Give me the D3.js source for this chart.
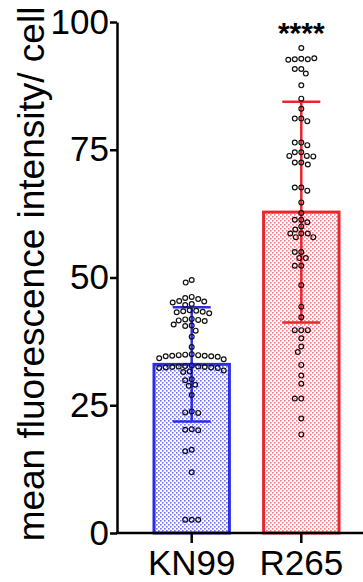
<!DOCTYPE html>
<html>
<head>
<meta charset="utf-8">
<script src="https://cdn.jsdelivr.net/npm/d3@7"></script>
<style>
  body { margin: 0; background: #fff; }
  svg { display: block; font-family: "Liberation Sans", Arial, sans-serif; }
</style>
</head>
<body>
<div id="chart"></div>
<script>
const categories = ['KN99', 'R265'];
const means = [33.0, 62.8];
const sds = [11.2, 21.6];
const yTicks = [0, 25, 50, 75, 100];
const significance = ['', '****'];

const kn99Values = [
    49.5, 49.0, 46.2, 46.0, 45.8, 45.4, 45.3, 45.1, 44.8, 44.6,
    43.6, 43.5, 43.4, 43.3, 43.2, 43.0, 41.9, 41.8, 41.7, 41.6, 41.5,
    40.8, 40.6, 40.5, 39.6, 38.4, 36.4,
    35.0, 34.9, 34.8, 34.8, 34.7, 34.7, 34.6, 34.6, 34.5, 34.2, 34.0,
    32.8, 32.7, 32.6, 32.6, 32.5, 32.5, 32.4, 32.4, 32.3, 32.3,
    31.8, 31.6, 31.5, 30.1, 29.9, 29.0, 28.8, 27.0,
    23.8, 23.6, 23.5, 20.3, 20.2, 20.1, 16.3, 16.0, 11.9,
    2.6, 2.6, 2.6
];
const r265Values = [
    94.9, 92.8, 92.7, 92.7, 92.6, 92.9, 90.8, 90.8, 89.9, 87.6, 85.0,
    83.0, 81.1, 81.1, 80.6, 76.4, 76.4, 75.9, 74.5, 74.5,
    73.8, 73.8, 73.7, 72.5, 72.5, 72.1, 67.6, 67.6, 67.0, 64.7, 62.6,
    61.3, 61.3, 60.8, 60.0, 59.4, 58.6, 58.6, 58.6, 57.9, 57.9,
    55.0, 55.0, 53.8, 53.8, 52.3, 52.3, 48.5, 44.3, 42.2,
    39.7, 39.7, 39.7, 38.1, 36.5, 35.4, 32.9, 30.8, 29.2, 26.3, 26.3,
    22.4, 19.3
];
const groupValues = [kn99Values, r265Values];
const strokeColors = ['#2d2de8', '#e8262e'];
const dotColors = ['#7070f4', '#f27a80'];

const width = 363, height = 582;
const margin = { top: 22, right: 0, bottom: 49, left: 117 };

const svg = d3.select('#chart').append('svg')
    .attr('width', width)
    .attr('height', height);

const defs = svg.append('defs');
dotColors.forEach((c, i) => {
    const p = defs.append('pattern')
        .attr('id', 'dots' + i)
        .attr('patternUnits', 'userSpaceOnUse')
        .attr('width', 4)
        .attr('height', 4);
    p.append('rect').attr('width', 4).attr('height', 4).attr('fill', '#fff');
    p.append('rect').attr('x', 0).attr('y', 0).attr('width', 1.6).attr('height', 1.6).attr('fill', c);
    p.append('rect').attr('x', 2).attr('y', 2).attr('width', 1.6).attr('height', 1.6).attr('fill', c);
});

const y = d3.scaleLinear()
    .domain([0, 100])
    .range([height - margin.bottom, margin.top]);

const x = d3.scaleBand()
    .domain(categories)
    .range([154, 339])
    .paddingInner(0.312)
    .paddingOuter(0);

const g = svg.append('g');

// bars
g.selectAll('rect.bar')
    .data(categories)
    .enter()
    .append('rect')
    .attr('class', 'bar')
    .attr('x', d => x(d))
    .attr('y', (d, i) => y(means[i]))
    .attr('width', x.bandwidth())
    .attr('height', (d, i) => y(0) - y(means[i]))
    .attr('fill', (d, i) => 'url(#dots' + i + ')')
    .attr('stroke', (d, i) => strokeColors[i])
    .attr('stroke-width', 3);

// error bars
const capHalf = 19;
categories.forEach((c, i) => {
    const cx = x(c) + x.bandwidth() / 2;
    const eg = g.append('g')
        .attr('stroke', strokeColors[i])
        .attr('stroke-width', 2.5);
    eg.append('line')
        .attr('x1', cx).attr('x2', cx)
        .attr('y1', y(means[i] + sds[i])).attr('y2', y(means[i] - sds[i]));
    [means[i] + sds[i], means[i] - sds[i]].forEach(v => {
        eg.append('line')
            .attr('x1', cx - capHalf).attr('x2', cx + capHalf)
            .attr('y1', y(v)).attr('y2', y(v));
    });
});

// beeswarm layout of points
const diam = 6.4;
function swarm(values, cx) {
    const placed = [];
    values.forEach(v => {
        const py = y(v);
        let off = 0;
        for (let k = 0; k < 200; k++) {
            const cand = (k % 2 === 0 ? 1 : -1) * Math.ceil(k / 2) * 0.5;
            const ok = placed.every(p => Math.hypot(p.x - (cx + cand), p.y - py) >= diam);
            if (ok) { off = cand; break; }
        }
        placed.push({ x: cx + off, y: py });
    });
    return placed;
}

categories.forEach((c, i) => {
    const cx = x(c) + x.bandwidth() / 2;
    const pts = swarm(groupValues[i], cx);
    g.append('g').selectAll('circle')
        .data(pts)
        .enter()
        .append('circle')
        .attr('cx', d => d.x)
        .attr('cy', d => d.y)
        .attr('r', 2.4)
        .attr('fill', 'none')
        .attr('stroke', '#111')
        .attr('stroke-width', 1.2);
});

// axes
const yAxis = g.append('g')
    .attr('transform', 'translate(' + margin.left + ',0)')
    .call(d3.axisLeft(y).tickValues(yTicks).tickSize(7).tickSizeOuter(0).tickPadding(1));
yAxis.select('.domain').attr('stroke-width', 2.5);
yAxis.selectAll('.tick line').attr('stroke-width', 2.5);
yAxis.selectAll('.tick text')
    .attr('font-size', 35)
    .attr('font-family', '"Liberation Sans", Arial, sans-serif')
    .attr('fill', '#000');

const xAxis = g.append('g')
    .attr('transform', 'translate(0,' + y(0) + ')');
xAxis.append('line')
    .attr('x1', margin.left - 1).attr('x2', width)
    .attr('stroke', '#000').attr('stroke-width', 2.5);
xAxis.selectAll('line.tick')
    .data(categories)
    .enter()
    .append('line')
    .attr('x1', d => x(d) + x.bandwidth() / 2)
    .attr('x2', d => x(d) + x.bandwidth() / 2)
    .attr('y1', 0).attr('y2', 10)
    .attr('stroke', '#000').attr('stroke-width', 2.5);
xAxis.selectAll('text')
    .data(categories)
    .enter()
    .append('text')
    .attr('x', d => x(d) + x.bandwidth() / 2)
    .attr('y', 42)
    .attr('text-anchor', 'middle')
    .attr('font-size', 35)
    .text(d => d);

// significance
g.selectAll('text.sig')
    .data(categories)
    .enter()
    .append('text')
    .attr('class', 'sig')
    .attr('x', d => x(d) + x.bandwidth() / 2)
    .attr('y', 43)
    .attr('text-anchor', 'middle')
    .attr('font-size', 30)
    .attr('font-weight', 'bold')
    .text((d, i) => significance[i]);

// y label
svg.append('text')
    .attr('transform', 'translate(44,274) rotate(-90)')
    .attr('text-anchor', 'middle')
    .attr('font-size', 37)
    .text('mean fluorescence intensity/ cell');
</script>
</body>
</html>
